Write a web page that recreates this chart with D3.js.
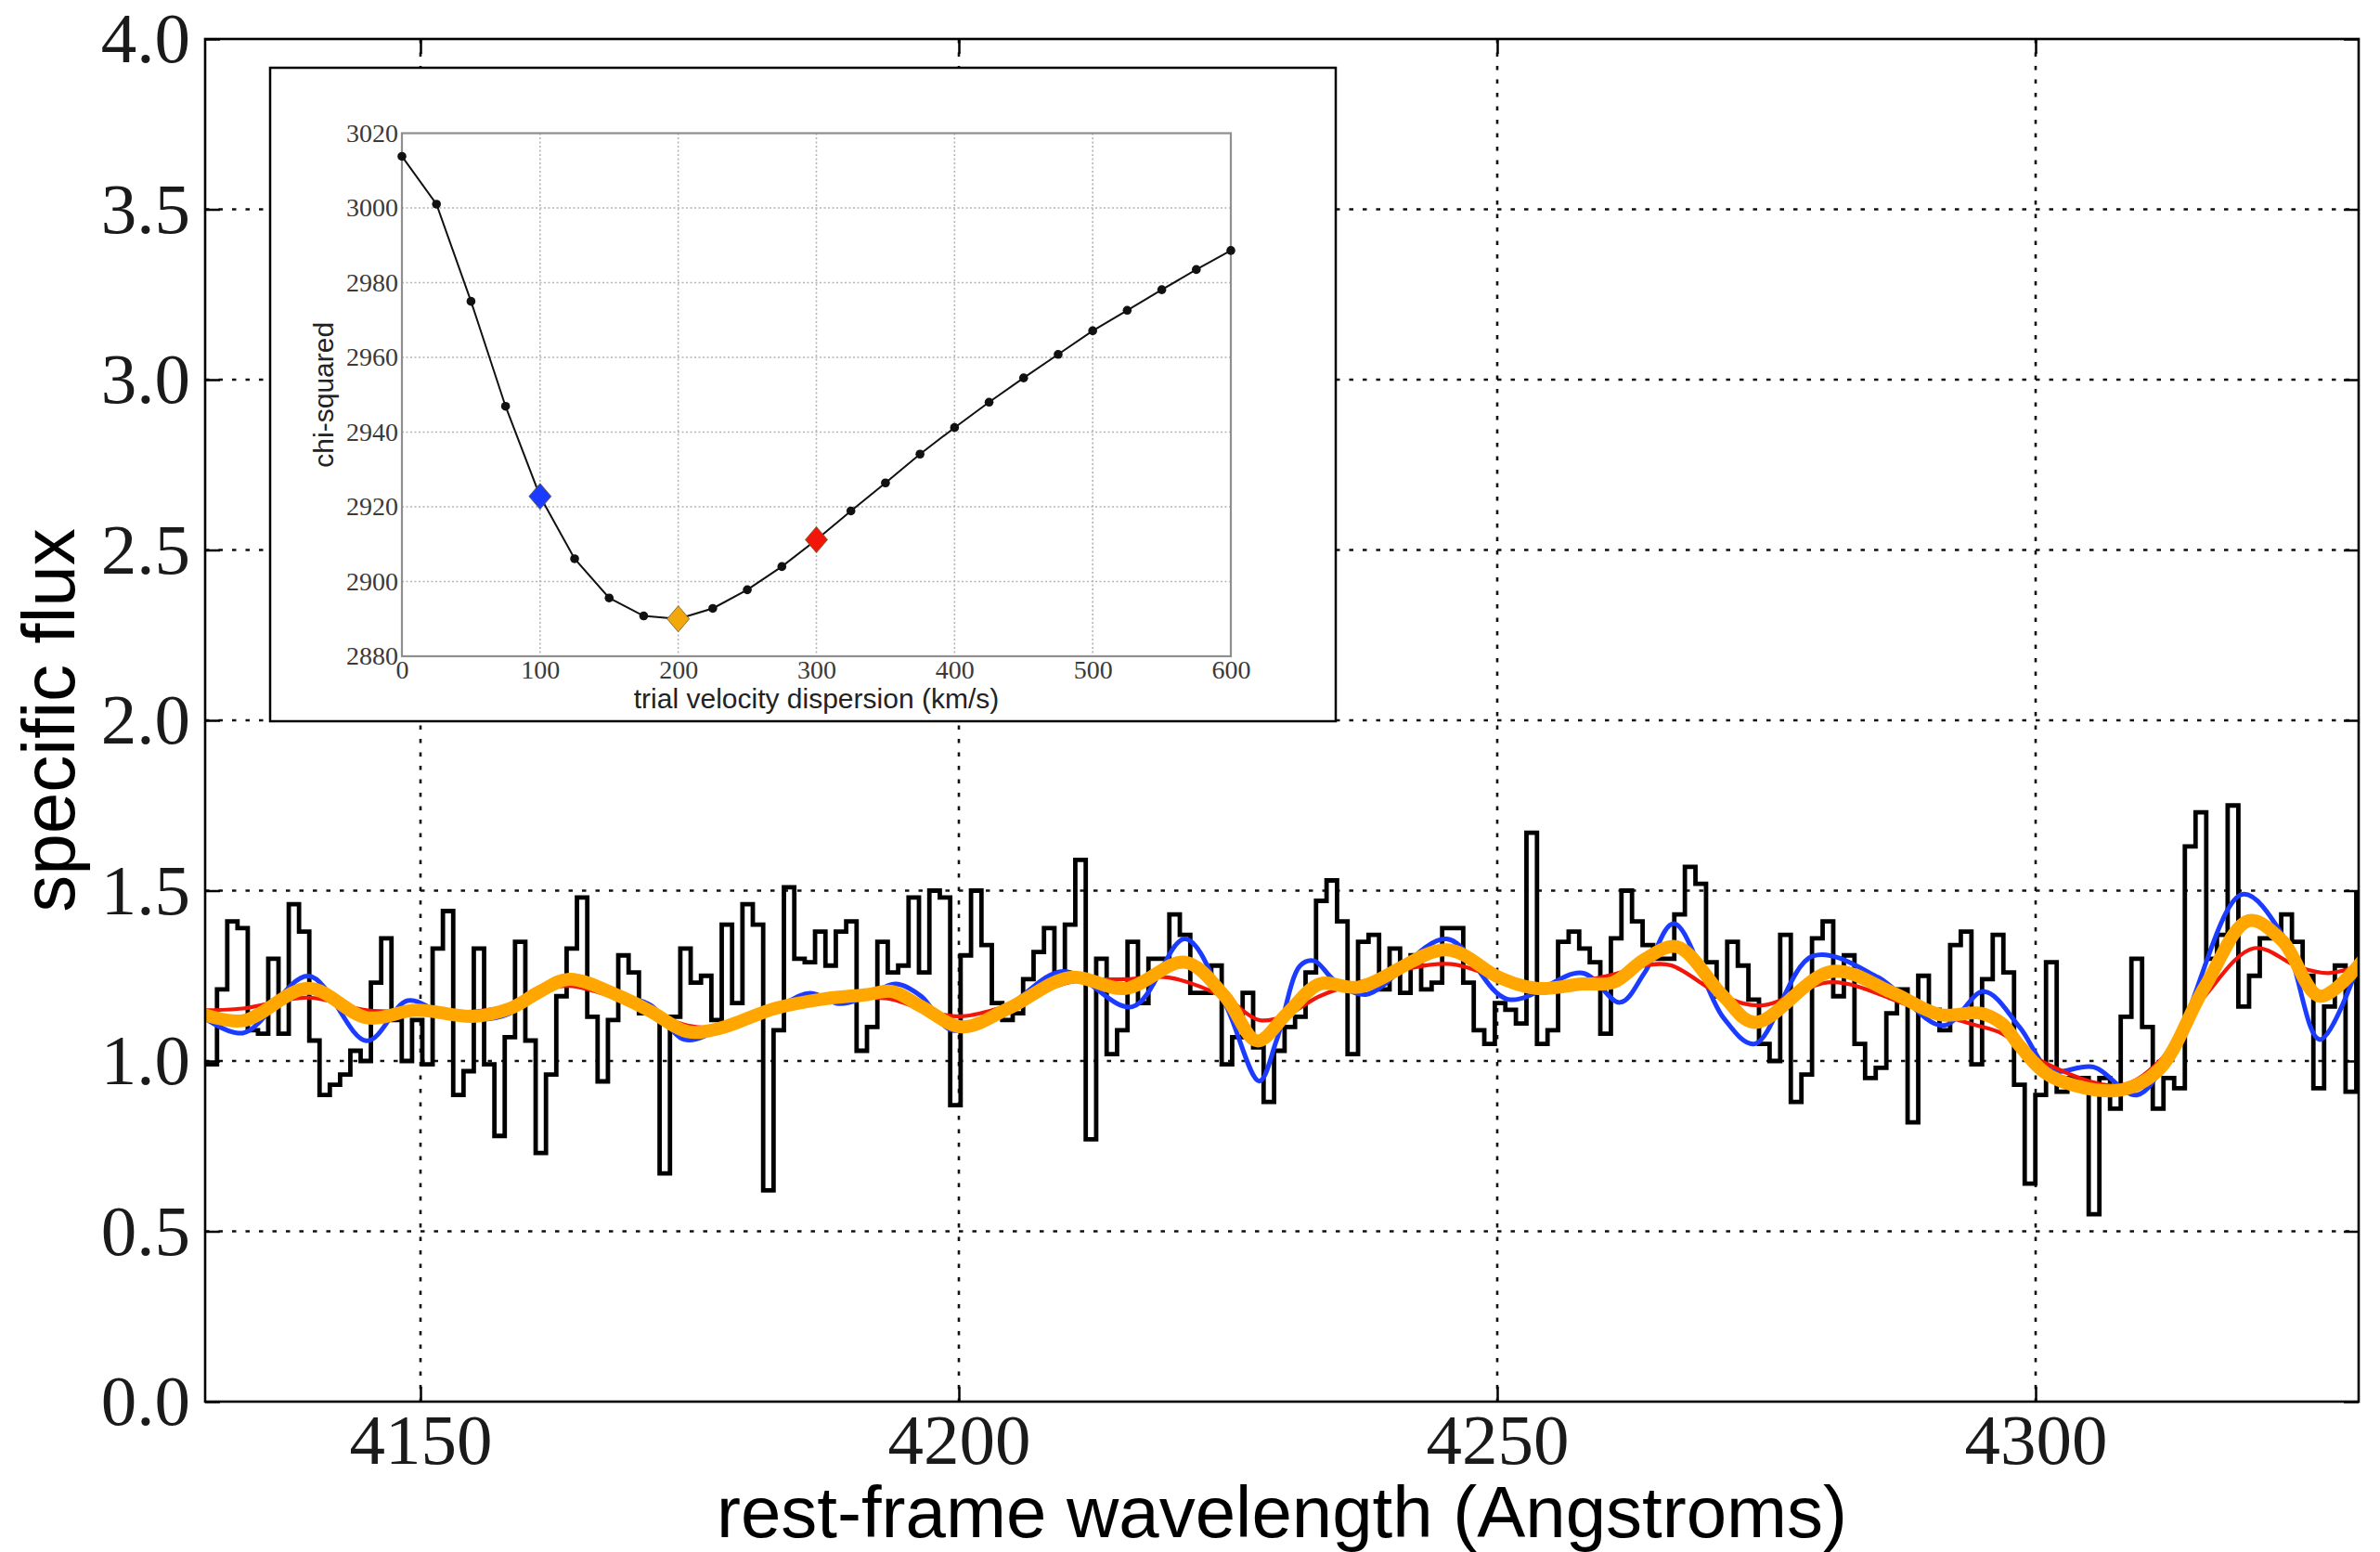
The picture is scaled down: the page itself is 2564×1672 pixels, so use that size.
<!DOCTYPE html>
<html>
<head>
<meta charset="utf-8">
<script src="https://cdn.jsdelivr.net/npm/d3@7/dist/d3.min.js"></script>
<style>
  body { margin: 0; background: #fff; }
</style>
</head>
<body>
<svg id="chart" width="2564" height="1672"></svg>
<script>
// ---- spectrum: log-linear pixels, first pixel edge and step in log10(lambda)
var loglamStart = 3.615966;
var dLoglam = 1e-4;
var flux = [
  0.99,1.21,1.41,1.39,1.09,1.08,1.30,1.08,1.46,1.38,1.06,0.90,0.93,0.96,1.03,1.00,1.23,1.36,
  1.12,1.00,1.12,0.99,1.33,1.44,0.90,0.97,1.33,0.99,0.78,1.07,1.35,1.06,0.73,0.96,1.19,1.33,
  1.48,1.13,0.94,1.12,1.31,1.26,1.14,1.14,0.67,1.13,1.33,1.23,1.25,1.12,1.40,1.17,1.46,1.40,
  0.62,1.09,1.51,1.30,1.29,1.38,1.28,1.38,1.41,1.03,1.10,1.35,1.26,1.28,1.48,1.26,
  1.50,1.48,0.87,1.31,1.50,1.34,1.17,1.12,1.14,1.24,1.32,1.39,1.26,1.40,1.59,0.77,1.30,1.02,
  1.09,1.35,1.17,1.30,1.30,1.43,1.37,1.20,1.20,1.28,0.99,1.07,1.20,1.04,0.88,1.03,
  1.10,1.13,1.26,1.47,1.53,1.41,1.02,1.35,1.37,1.21,1.33,1.20,1.31,1.21,1.23,1.39,1.39,1.23,
  1.09,1.05,1.17,1.15,1.11,1.67,1.05,1.09,1.35,1.38,1.33,1.29,1.08,1.36,1.50,1.41,
  1.34,1.30,1.30,1.43,1.57,1.52,1.29,1.19,1.35,1.28,1.18,1.05,1.00,1.37,0.88,0.96,1.36,1.41,
  1.19,1.31,1.05,0.95,0.98,1.14,1.21,0.82,1.25,1.15,1.09,1.34,1.38,0.99,1.24,1.37,
  1.26,0.93,0.64,0.90,1.29,0.91,0.95,0.95,0.55,0.95,0.86,1.13,1.30,1.10,0.86,0.95,0.92,1.63,
  1.73,1.30,1.37,1.75,1.16,1.25,1.36,1.36,1.43,1.35,1.25,0.92,1.16,1.28,0.91,1.49
];

// ---- broadened template fits, read as [wavelength, flux]
var model100 = [[4129.5,1.136],[4133.5,1.082],[4139.6,1.249],[4145.0,1.059],[4148.8,1.177],[4152.0,1.14],
  [4155.4,1.122],[4158.3,1.14],[4161.1,1.208],[4163.8,1.249],[4168.5,1.195],[4171.4,1.163],[4174.5,1.063],
  [4177.7,1.09],[4182.9,1.154],[4186.2,1.199],[4188.9,1.168],[4191.5,1.19],[4194.1,1.226],[4196.5,1.19],
  [4199.4,1.09],[4204.6,1.163],[4209.7,1.263],[4216.1,1.159],[4221.0,1.358],[4224.7,1.17],[4227.9,0.941],
  [4229.5,1.06],[4231.7,1.28],[4233.0,1.294],[4234.9,1.236],[4237.8,1.195],[4245.3,1.358],[4251.0,1.181],
  [4257.9,1.258],[4261.4,1.172],[4263.7,1.26],[4266.4,1.403],[4271.0,1.127],[4273.9,1.05],[4279.3,1.308],
  [4285.4,1.245],[4291.4,1.104],[4295.2,1.204],[4298.5,1.10],[4301.4,0.973],[4305.4,0.982],[4309.4,0.90],
  [4312.9,1.05],[4319.2,1.489],[4322.9,1.371],[4326.4,1.063],[4330.5,1.33]];
var model300 = [[4129.5,1.149],[4133.5,1.154],[4139.6,1.186],[4145.0,1.149],[4149.6,1.145],[4154.8,1.145],
  [4158.3,1.163],[4161.1,1.204],[4163.8,1.22],[4168.5,1.181],[4174.8,1.104],[4177.7,1.1],[4182.9,1.149],
  [4187.2,1.172],[4191.5,1.186],[4193.8,1.181],[4197.2,1.145],[4200.3,1.131],[4204.6,1.163],[4210.3,1.231],
  [4215.5,1.24],[4219.5,1.245],[4224.7,1.186],[4227.9,1.12],[4230.5,1.136],[4233.5,1.19],[4237.8,1.236],
  [4245.3,1.285],[4252.2,1.226],[4257.9,1.236],[4260.8,1.254],[4263.7,1.28],[4266.1,1.281],[4271.0,1.19],
  [4274.5,1.163],[4281.1,1.231],[4288.3,1.163],[4294.0,1.109],[4296.9,1.08],[4299.9,1.01],[4307.7,0.928],
  [4311.4,0.996],[4315.7,1.19],[4320.3,1.331],[4324.4,1.276],[4327.2,1.258],[4330.5,1.285]];
var model200 = [[4129.5,1.14],[4133.5,1.118],[4139.6,1.213],[4145.0,1.127],[4149.6,1.149],[4154.8,1.131],
  [4158.3,1.154],[4161.1,1.204],[4163.8,1.24],[4168.5,1.19],[4171.4,1.145],[4174.8,1.086],[4177.7,1.095],
  [4182.9,1.154],[4187.2,1.181],[4191.5,1.195],[4193.8,1.204],[4196.5,1.16],[4200.3,1.10],[4204.6,1.154],
  [4210.3,1.245],[4215.5,1.213],[4221.0,1.29],[4224.7,1.19],[4227.7,1.059],[4230.5,1.14],[4233.5,1.226],
  [4237.2,1.217],[4245.3,1.326],[4250.2,1.245],[4253.6,1.213],[4257.9,1.226],[4260.8,1.231],[4263.7,1.299],
  [4266.7,1.335],[4271.0,1.19],[4273.9,1.113],[4281.1,1.263],[4286.8,1.199],[4291.1,1.136],[4294.9,1.14],
  [4296.9,1.109],[4298.5,1.045],[4301.4,0.955],[4307.7,0.914],[4311.4,0.973],[4315.7,1.217],[4319.8,1.412],
  [4322.9,1.353],[4326.4,1.19],[4330.5,1.30]];

// ---- inset: chi-squared against trial velocity dispersion
var sigmaTrial = [0,25,50,75,100,125,150,175,200,225,250,275,300,325,350,375,400,425,450,475,500,525,550,575,600];
var chiSq = [3013.8,3001.0,2975.0,2946.9,2922.8,2906.1,2895.6,2890.8,2890.0,2892.8,2897.8,2904.0,2911.2,
  2918.9,2926.4,2934.1,2941.2,2948.0,2954.5,2960.8,2967.1,2972.6,2978.1,2983.5,2988.6];
var pickedSigma = [100, 300, 200];

// ticks
var xTicks = [4150, 4200, 4250, 4300];
var yTicks = [0, 0.5, 1, 1.5, 2, 2.5, 3, 3.5, 4];
var insetXTicks = [0, 100, 200, 300, 400, 500, 600];
var insetYTicks = [2880, 2900, 2920, 2940, 2960, 2980, 3000, 3020];

// colours (blue = 100 km/s, red = 300 km/s, orange = 200 km/s)
var colBlue = "#1b3cff", colRed = "#f2160a", colOrange = "#ffa700";

var svg = d3.select("#chart");
var L = 221, R = 2541, T = 42, B = 1510;

var x = d3.scaleLinear().domain([4130, 4330]).range([L, R]);
var y = d3.scaleLinear().domain([0, 4]).range([B, T]);

svg.append("defs").append("clipPath").attr("id", "plotclip")
  .append("rect").attr("x", L).attr("y", T).attr("width", R - L).attr("height", B - T);

// grid, dotted black
var grid = svg.append("g").attr("stroke", "#111").attr("stroke-width", 2.6)
  .attr("stroke-dasharray", "4.5,10");
grid.selectAll(".gx").data(xTicks).enter().append("line")
  .attr("x1", d => x(d)).attr("x2", d => x(d)).attr("y1", T).attr("y2", B);
grid.selectAll(".gy").data(yTicks.slice(1, -1)).enter().append("line")
  .attr("y1", d => y(d)).attr("y2", d => y(d)).attr("x1", L).attr("x2", R);

var plot = svg.append("g").attr("clip-path", "url(#plotclip)");

// step spectrum
var edge = function(i) { return Math.pow(10, loglamStart + i * dLoglam); };
var stepPts = flux.map(function(f, i) { return [edge(i), f]; });
stepPts.unshift([edge(-1), flux[0]]);
stepPts.push([edge(flux.length), flux[flux.length - 1]]);
var stepLine = d3.line().x(d => x(d[0])).y(d => y(d[1])).curve(d3.curveStepAfter);
plot.append("path").attr("d", stepLine(stepPts)).attr("fill", "none")
  .attr("stroke", "#000").attr("stroke-width", 4.8).attr("stroke-linejoin", "miter");

var smooth = d3.line().x(d => x(d[0])).y(d => y(d[1])).curve(d3.curveCatmullRom.alpha(0.5));
plot.append("path").attr("d", smooth(model100)).attr("fill", "none")
  .attr("stroke", colBlue).attr("stroke-width", 5);
plot.append("path").attr("d", smooth(model300)).attr("fill", "none")
  .attr("stroke", colRed).attr("stroke-width", 4.2);
plot.append("path").attr("d", smooth(model200)).attr("fill", "none")
  .attr("stroke", colOrange).attr("stroke-width", 14).attr("stroke-linecap", "round");

// axes with inward ticks
var serif = "'Liberation Serif', 'DejaVu Serif', serif";
var sans = "'Liberation Sans', Arial, sans-serif";

var ax = svg.append("g").attr("transform", "translate(0," + B + ")")
  .call(d3.axisBottom(x).tickValues(xTicks).tickFormat(d3.format("d")).tickSize(-16).tickSizeOuter(0).tickPadding(12));
var axTop = svg.append("g").attr("transform", "translate(0," + T + ")")
  .call(d3.axisTop(x).tickValues(xTicks).tickFormat("").tickSize(-16).tickSizeOuter(0));
var ay = svg.append("g").attr("transform", "translate(" + L + ",0)")
  .call(d3.axisLeft(y).tickValues(yTicks).tickFormat(d3.format(".1f")).tickSize(-16).tickSizeOuter(0).tickPadding(16));
var ayR = svg.append("g").attr("transform", "translate(" + R + ",0)")
  .call(d3.axisRight(y).tickValues(yTicks).tickFormat("").tickSize(-16).tickSizeOuter(0));
[ax, axTop, ay, ayR].forEach(function(g) {
  g.select(".domain").remove();
  g.selectAll(".tick line").attr("stroke", "#000").attr("stroke-width", 2.5);
  g.selectAll("text").attr("font-family", serif).attr("font-size", 77).attr("fill", "#1a1a1a");
});

svg.append("rect").attr("x", L).attr("y", T).attr("width", R - L).attr("height", B - T)
  .attr("fill", "none").attr("stroke", "#000").attr("stroke-width", 2.6);

svg.append("text").attr("x", (L + R) / 2).attr("y", 1656).attr("text-anchor", "middle")
  .attr("font-family", sans).attr("font-size", 78).attr("fill", "#000")
  .text("rest-frame wavelength (Angstroms)");
svg.append("text").attr("transform", "translate(80," + ((T + B) / 2) + ") rotate(-90)")
  .attr("text-anchor", "middle").attr("font-family", sans).attr("font-size", 80).attr("fill", "#000")
  .text("specific flux");

// ---- inset panel
var inset = svg.append("g");
inset.append("rect").attr("x", 291).attr("y", 73).attr("width", 1148).attr("height", 704)
  .attr("fill", "#fff").attr("stroke", "#000").attr("stroke-width", 2.5);

var iL = 433, iR = 1326, iT = 143.5, iB = 707;
var xi = d3.scaleLinear().domain([0, 600]).range([iL, iR]);
var yi = d3.scaleLinear().domain([2880, 3020]).range([iB, iT]);

var igrid = inset.append("g").attr("stroke", "#b4b4b4").attr("stroke-width", 1.6)
  .attr("stroke-dasharray", "2,2.5");
igrid.selectAll(".ix").data(insetXTicks.slice(1, -1)).enter().append("line")
  .attr("x1", d => xi(d)).attr("x2", d => xi(d)).attr("y1", iT).attr("y2", iB);
igrid.selectAll(".iy").data(insetYTicks.slice(1, -1)).enter().append("line")
  .attr("y1", d => yi(d)).attr("y2", d => yi(d)).attr("x1", iL).attr("x2", iR);

inset.append("rect").attr("x", iL).attr("y", iT).attr("width", iR - iL).attr("height", iB - iT)
  .attr("fill", "none").attr("stroke", "#8f8f8f").attr("stroke-width", 2.2);

var ixAxis = inset.append("g").attr("transform", "translate(0," + iB + ")")
  .call(d3.axisBottom(xi).tickValues(insetXTicks).tickFormat(d3.format("d")).tickSize(0).tickPadding(4));
var iyAxis = inset.append("g").attr("transform", "translate(" + iL + ",0)")
  .call(d3.axisLeft(yi).tickValues(insetYTicks).tickFormat(d3.format("d")).tickSize(0).tickPadding(4));
[ixAxis, iyAxis].forEach(function(g) {
  g.select(".domain").remove();
  g.selectAll("text").attr("font-family", serif).attr("font-size", 28).attr("fill", "#3a3a3a");
});

var chiPts = sigmaTrial.map(function(s, i) { return [s, chiSq[i]]; });
inset.append("path").attr("d", d3.line().x(d => xi(d[0])).y(d => yi(d[1]))(chiPts))
  .attr("fill", "none").attr("stroke", "#111").attr("stroke-width", 2);
inset.selectAll(".dot").data(chiPts).enter().append("circle")
  .attr("cx", d => xi(d[0])).attr("cy", d => yi(d[1])).attr("r", 4.8).attr("fill", "#111");

var diamondCols = [colBlue, colRed, "#f2a80c"];
inset.selectAll(".pick").data(pickedSigma).enter().append("path")
  .attr("transform", function(s) { return "translate(" + xi(s) + "," + yi(chiSq[sigmaTrial.indexOf(s)]) + ")"; })
  .attr("d", "M0,-14L12,0L0,14L-12,0Z")
  .attr("fill", (s, i) => diamondCols[i]).attr("stroke", "#6a5a30").attr("stroke-width", 0.8);

inset.append("text").attr("x", (iL + iR) / 2).attr("y", 763).attr("text-anchor", "middle")
  .attr("font-family", sans).attr("font-size", 30).attr("fill", "#222")
  .text("trial velocity dispersion (km/s)");
inset.append("text").attr("transform", "translate(359," + ((iT + iB) / 2) + ") rotate(-90)")
  .attr("text-anchor", "middle").attr("font-family", sans).attr("font-size", 30).attr("fill", "#222")
  .text("chi-squared");
</script>
</body>
</html>
